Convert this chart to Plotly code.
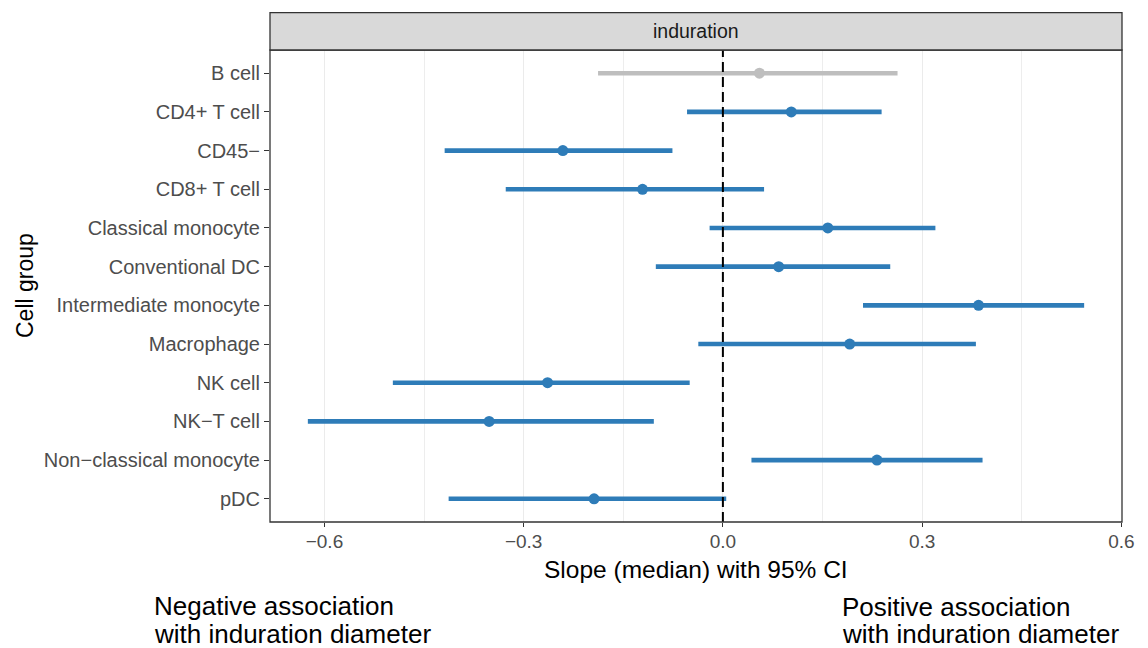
import plotly.graph_objects as go

# Median slope and 95% CI per cell group (facet: induration)
cell_groups = [
    "B cell", "CD4+ T cell", "CD45\u2212", "CD8+ T cell", "Classical monocyte",
    "Conventional DC", "Intermediate monocyte", "Macrophage", "NK cell",
    "NK\u2212T cell", "Non\u2212classical monocyte", "pDC",
]
slope_median = [0.055, 0.103, -0.241, -0.121, 0.158, 0.084, 0.385, 0.191, -0.264, -0.352, 0.232, -0.194]
ci_low = [-0.188, -0.054, -0.419, -0.327, -0.020, -0.101, 0.211, -0.037, -0.497, -0.625, 0.043, -0.413]
ci_high = [0.263, 0.239, -0.076, 0.062, 0.320, 0.252, 0.544, 0.381, -0.050, -0.104, 0.391, 0.005]
row_status = ["grey", "blue", "blue", "blue", "blue", "blue", "blue", "blue", "blue", "blue", "blue", "blue"]

x_ticks = [-0.6, -0.3, 0.0, 0.3, 0.6]
x_tick_labels = ["\u22120.6", "\u22120.3", "0.0", "0.3", "0.6"]

palette = {"blue": "#2E7CB8", "grey": "#BEBEBE"}
FONT = "Liberation Sans, Arial, Helvetica, sans-serif"

fig = go.Figure()

for name, lo, hi, med, st in zip(cell_groups, ci_low, ci_high, slope_median, row_status):
    col = palette[st]
    fig.add_trace(go.Scatter(
        x=[lo, hi], y=[name, name], mode="lines",
        line=dict(color=col, width=4.6), showlegend=False, hoverinfo="skip",
    ))
    fig.add_trace(go.Scatter(
        x=[med], y=[name], mode="markers",
        marker=dict(color=col, size=11, line=dict(width=0)),
        showlegend=False,
    ))

panel_w = 852
panel_h = 472
strip_h = 37.3


def py(px_below_panel):
    """Paper y for a pixel offset below the panel's bottom edge."""
    return -px_below_panel / panel_h


def px(px_from_left):
    """Paper x for a pixel offset from the panel's left edge."""
    return px_from_left / panel_w


shapes = [
    # reference line at zero
    dict(type="line", xref="x", yref="paper", x0=0, x1=0, y0=0, y1=1,
         line=dict(color="black", width=2, dash="10px,5px"), layer="above"),
    # panel border
    dict(type="rect", xref="paper", yref="paper", x0=0, x1=1, y0=0, y1=1,
         line=dict(color="#333333", width=1.3), fillcolor="rgba(0,0,0,0)", layer="above"),
    # facet strip
    dict(type="rect", xref="paper", yref="paper", x0=0, x1=1, y0=1, y1=1 + strip_h / panel_h,
         line=dict(color="#333333", width=1.3), fillcolor="#D9D9D9", layer="above"),
]

note_font = dict(family=FONT, size=26, color="black")
note = dict(xref="paper", yref="paper", xanchor="left", yanchor="middle",
            showarrow=False, font=note_font, borderpad=0)
annotations = [
    dict(text="induration", xref="paper", yref="paper", x=0.5, y=1 + strip_h / 2 / panel_h,
         xanchor="center", yanchor="middle", showarrow=False,
         font=dict(family=FONT, size=19.5, color="#1A1A1A")),
    dict(text="Slope (median) with 95% CI", xref="paper", yref="paper",
         x=0.5, y=py(47), xanchor="center", yanchor="middle", showarrow=False,
         font=dict(family=FONT, size=24.5, color="black")),
    dict(text="Cell group", xref="paper", yref="paper", x=px(-245), y=0.5,
         xanchor="center", yanchor="middle", textangle=-90, showarrow=False,
         font=dict(family=FONT, size=23, color="black")),
    dict(note, text="Negative association", x=px(-117), y=py(84)),
    dict(note, text="with induration diameter", x=px(-117), y=py(112)),
    dict(note, text="Positive association", x=px(571), y=py(85)),
    dict(note, text="with induration diameter", x=px(571), y=py(112)),
]

fig.update_layout(
    width=1148, height=648,
    margin=dict(l=270, r=26, t=50, b=126),
    paper_bgcolor="white", plot_bgcolor="white",
    font=dict(family=FONT),
    shapes=shapes, annotations=annotations,
    xaxis=dict(
        range=[-0.682, 0.601], tickvals=x_ticks, ticktext=x_tick_labels,
        showgrid=True, gridcolor="#EBEBEB", gridwidth=1.4,
        minor=dict(dtick=0.15, tick0=0.0, showgrid=True, gridcolor="#EDEDED", gridwidth=1.0, ticks=""),
        zeroline=False, showline=False,
        ticks="outside", ticklen=4, tickwidth=1.2, tickcolor="#333333",
        ticklabelstandoff=-2,
        tickfont=dict(family=FONT, size=19, color="#4D4D4D"),
    ),
    yaxis=dict(
        type="category", categoryorder="array", categoryarray=cell_groups,
        range=[len(cell_groups) - 0.4, -0.6],
        showgrid=False, zeroline=False, showline=False,
        ticks="outside", ticklen=5, tickwidth=1.2, tickcolor="#333333",
        tickfont=dict(family=FONT, size=20, color="#4D4D4D"),
    ),
)

fig.write_html("out.html")
